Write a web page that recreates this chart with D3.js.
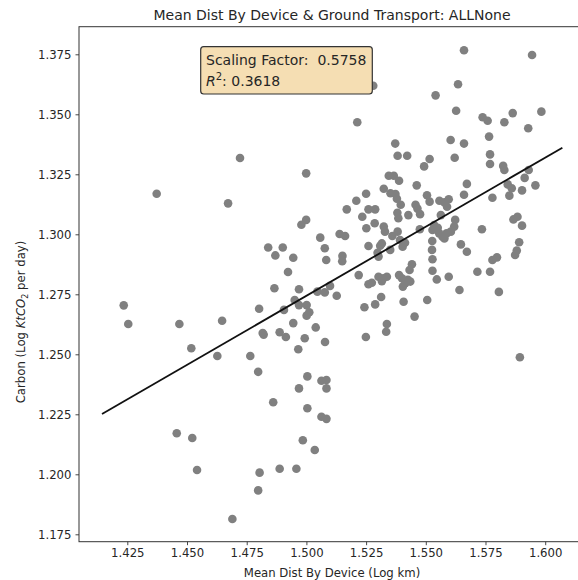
<!DOCTYPE html>
<html>
<head>
<meta charset="utf-8">
<script src="https://cdn.jsdelivr.net/npm/d3@7"></script>
<style>
  body { margin: 0; background: #fff; }
  text { font-family: "DejaVu Sans", sans-serif; fill: #262626; }
</style>
</head>
<body>
<div id="chart"></div>
<script>
// values
var distX = [
  1.4722, 1.4999, 1.4373, 1.4672, 1.4999, 1.4979, 1.5058, 1.5077, 1.4840, 1.4901,
  1.4870, 1.4945, 1.5083, 1.4923, 1.4866, 1.4969, 1.5046, 1.5077, 1.4235, 1.4254,
  1.4468, 1.4647, 1.4802, 1.4951, 1.4906, 1.4969, 1.5001, 1.5012, 1.5001, 1.4945,
  1.5039, 1.4817, 1.4821, 1.4888, 1.4914, 1.4993, 1.5078, 1.4518, 1.4966, 1.4627,
  1.4765, 1.4798, 1.5004, 1.5063, 1.5084, 1.4969, 1.5084, 1.4861, 1.5004, 1.5063,
  1.5084, 1.4457, 1.4522, 1.4985, 1.5035, 1.4542, 1.4888, 1.4958, 1.4804, 1.4798,
  1.4690, 1.5660, 1.5945, 1.5280, 1.5635, 1.5541, 1.5627, 1.5984, 1.5213, 1.5738,
  1.5759, 1.5829, 1.5864, 1.5929, 1.5765, 1.5604, 1.5660, 1.5372, 1.5382, 1.5422,
  1.5516, 1.5493, 1.5621, 1.5769, 1.5769, 1.5824, 1.5829, 1.5931, 1.5914, 1.5345,
  1.5366, 1.5388, 1.5672, 1.5462, 1.5843, 1.5860, 1.5959, 1.5903, 1.5324, 1.5250,
  1.5352, 1.5373, 1.5379, 1.5660, 1.5505, 1.5516, 1.5779, 1.5850, 1.5209, 1.5557,
  1.5578, 1.5596, 1.5395, 1.5457, 1.5169, 1.5260, 1.5288, 1.5465, 1.5589, 1.5234,
  1.5381, 1.5385, 1.5427, 1.5476, 1.5563, 1.5535, 1.5528, 1.5550, 1.5556, 1.5570,
  1.5587, 1.5605, 1.5619, 1.5623, 1.5578, 1.5867, 1.5884, 1.5903, 1.5286, 1.5251,
  1.5324, 1.5329, 1.5360, 1.5382, 1.5392, 1.5413, 1.5403, 1.5475, 1.5735, 1.5139,
  1.5162, 1.5151, 1.5150, 1.5260, 1.5309, 1.5316, 1.5298, 1.5302, 1.5351, 1.5527,
  1.5526, 1.5528, 1.5647, 1.5672, 1.5891, 1.5881, 1.5874, 1.5798, 1.5779, 1.5716,
  1.5769, 1.5806, 1.5641, 1.5596, 1.5546, 1.5528, 1.5219, 1.5260, 1.5274, 1.5302,
  1.5316, 1.5322, 1.5337, 1.5388, 1.5400, 1.5404, 1.5414, 1.5425, 1.5435, 1.5432,
  1.5442, 1.5127, 1.5099, 1.5313, 1.5288, 1.5243, 1.5407, 1.5506, 1.5453, 1.5337,
  1.5334, 1.5249, 1.5894
];
var carbonY = [
  1.3318, 1.3254, 1.3169, 1.3129, 1.3060, 1.3040, 1.2986, 1.2942, 1.2945, 1.2945,
  1.2912, 1.2902, 1.2893, 1.2843, 1.2775, 1.2771, 1.2761, 1.2758, 1.2704, 1.2626,
  1.2626, 1.2640, 1.2690, 1.2726, 1.2685, 1.2705, 1.2705, 1.2675, 1.2661, 1.2630,
  1.2612, 1.2589, 1.2582, 1.2592, 1.2572, 1.2567, 1.2551, 1.2525, 1.2521, 1.2493,
  1.2493, 1.2427, 1.2408, 1.2390, 1.2393, 1.2358, 1.2358, 1.2300, 1.2275, 1.2240,
  1.2231, 1.2171, 1.2151, 1.2142, 1.2101, 1.2018, 1.2023, 1.2023, 1.2007, 1.1933,
  1.1814, 1.3767, 1.3747, 1.3619, 1.3625, 1.3579, 1.3515, 1.3511, 1.3467, 1.3488,
  1.3473, 1.3467, 1.3505, 1.3442, 1.3407, 1.3393, 1.3378, 1.3378, 1.3327, 1.3327,
  1.3314, 1.3283, 1.3319, 1.3333, 1.3293, 1.3285, 1.3268, 1.3268, 1.3235, 1.3244,
  1.3244, 1.3223, 1.3210, 1.3204, 1.3208, 1.3192, 1.3204, 1.3183, 1.3190, 1.3169,
  1.3171, 1.3168, 1.3148, 1.3165, 1.3163, 1.3136, 1.3152, 1.3161, 1.3140, 1.3140,
  1.3133, 1.3146, 1.3123, 1.3123, 1.3104, 1.3104, 1.3104, 1.3107, 1.3115, 1.3073,
  1.3090, 1.3067, 1.3080, 1.3084, 1.3080, 1.3039, 1.3018, 1.3027, 1.3004, 1.2990,
  1.3004, 1.3011, 1.3032, 1.3060, 1.2983, 1.3062, 1.3073, 1.3036, 1.3046, 1.3025,
  1.3032, 1.3011, 1.2993, 1.3011, 1.2976, 1.2965, 1.2948, 1.3021, 1.3021, 1.3001,
  1.2993, 1.2910, 1.2888, 1.2951, 1.2952, 1.2962, 1.2923, 1.2907, 1.2935, 1.2972,
  1.2935, 1.2896, 1.2958, 1.2927, 1.2967, 1.2932, 1.2914, 1.2904, 1.2893, 1.2844,
  1.2844, 1.2760, 1.2768, 1.2823, 1.2812, 1.2848, 1.2830, 1.2792, 1.2798, 1.2823,
  1.2805, 1.2817, 1.2823, 1.2830, 1.2817, 1.2782, 1.2796, 1.2810, 1.2803, 1.2851,
  1.2875, 1.2744, 1.2785, 1.2739, 1.2708, 1.2696, 1.2719, 1.2726, 1.2657, 1.2626,
  1.2594, 1.2572, 1.2488
];

// fitted line end points
var fitX = [1.4144, 1.6072];
var fitY = [1.2251, 1.3361];

var xTicks = [1.425, 1.450, 1.475, 1.500, 1.525, 1.550, 1.575, 1.600];
var yTicks = [1.175, 1.200, 1.225, 1.250, 1.275, 1.300, 1.325, 1.350, 1.375];

var titleText = "Mean Dist By Device & Ground Transport: ALLNone";
var scalingFactor = "0.5758";
var rSquared = "0.3618";

var W = 578, H = 580;
var margin = {top: 26.7, right: -7, bottom: 38.3, left: 79};
var width = W - margin.left - margin.right,
    height = H - margin.top - margin.bottom;

var svg = d3.select("#chart")
  .append("svg")
  .attr("width", W)
  .attr("height", H);

var g = svg.append("g")
  .attr("transform", "translate(" + margin.left + "," + margin.top + ")");

var x = d3.scaleLinear().domain([1.40477, 1.61667]).range([0, width]);
var y = d3.scaleLinear().domain([1.17192, 1.3865]).range([height, 0]);

// points
var pts = distX.map(function(d, i) { return {x: d, y: carbonY[i]}; });
g.selectAll("circle")
  .data(pts)
  .enter()
  .append("circle")
    .attr("cx", function(d) { return x(d.x); })
    .attr("cy", function(d) { return y(d.y); })
    .attr("r", 4.3)
    .style("fill", "#808080");

// fit line
g.append("line")
  .attr("x1", x(fitX[0])).attr("y1", y(fitY[0]))
  .attr("x2", x(fitX[1])).attr("y2", y(fitY[1]))
  .style("stroke", "#111")
  .style("stroke-width", 1.8);

// axes
var xAxis = g.append("g")
  .attr("transform", "translate(0," + height + ")")
  .call(d3.axisBottom(x).tickValues(xTicks).tickFormat(d3.format(".3f")).tickSizeInner(3.5).tickSizeOuter(0).tickPadding(4));
var yAxis = g.append("g")
  .call(d3.axisLeft(y).tickValues(yTicks).tickFormat(d3.format(".3f")).tickSizeInner(3.5).tickSizeOuter(0).tickPadding(4));

[xAxis, yAxis].forEach(function(a) {
  a.select(".domain").remove();
  a.selectAll("line").style("stroke", "#333").style("stroke-width", 0.9);
  a.selectAll("text")
    .style("font-family", "DejaVu Sans")
    .style("font-size", "11.7px")
    .style("fill", "#262626");
});

// frame (right spine falls outside the picture)
g.append("rect")
  .attr("x", 0).attr("y", 0)
  .attr("width", width).attr("height", height)
  .style("fill", "none")
  .style("stroke", "#333")
  .style("stroke-width", 1);

// title
svg.append("text")
  .attr("x", margin.left + width / 2)
  .attr("y", 19.5)
  .attr("text-anchor", "middle")
  .style("font-size", "14px")
  .text(titleText);

// x label
svg.append("text")
  .attr("x", margin.left + width / 2)
  .attr("y", 577)
  .attr("text-anchor", "middle")
  .style("font-size", "11.7px")
  .text("Mean Dist By Device (Log km)");

// y label
var yl = svg.append("text")
  .attr("transform", "translate(25,322) rotate(-90)")
  .attr("text-anchor", "middle")
  .style("font-size", "11.7px");
yl.append("tspan").text("Carbon (Log ");
yl.append("tspan").style("font-style", "italic").text("KtCO");
yl.append("tspan").attr("dy", 3).style("font-size", "8px").text("2");
yl.append("tspan").attr("dy", -3).text(" per day)");

// annotation box
var box = svg.append("g");
box.append("rect")
  .attr("x", 200.7).attr("y", 46.7)
  .attr("width", 171.6).attr("height", 47.3)
  .attr("rx", 3).attr("ry", 3)
  .style("fill", "#f5deb3")
  .style("stroke", "#333")
  .style("stroke-width", 1.2);
box.append("text")
  .attr("x", 206).attr("y", 65)
  .style("font-size", "14px")
  .style("white-space", "pre")
  .text("Scaling Factor:\u00a0\u00a0" + scalingFactor);
var r2 = box.append("text")
  .attr("x", 206).attr("y", 85.5)
  .style("font-size", "14px");
r2.append("tspan").style("font-style", "italic").text("R");
r2.append("tspan").attr("dy", -6).style("font-size", "10px").text("2");
r2.append("tspan").attr("dy", 6).text(": " + rSquared);
</script>
</body>
</html>
